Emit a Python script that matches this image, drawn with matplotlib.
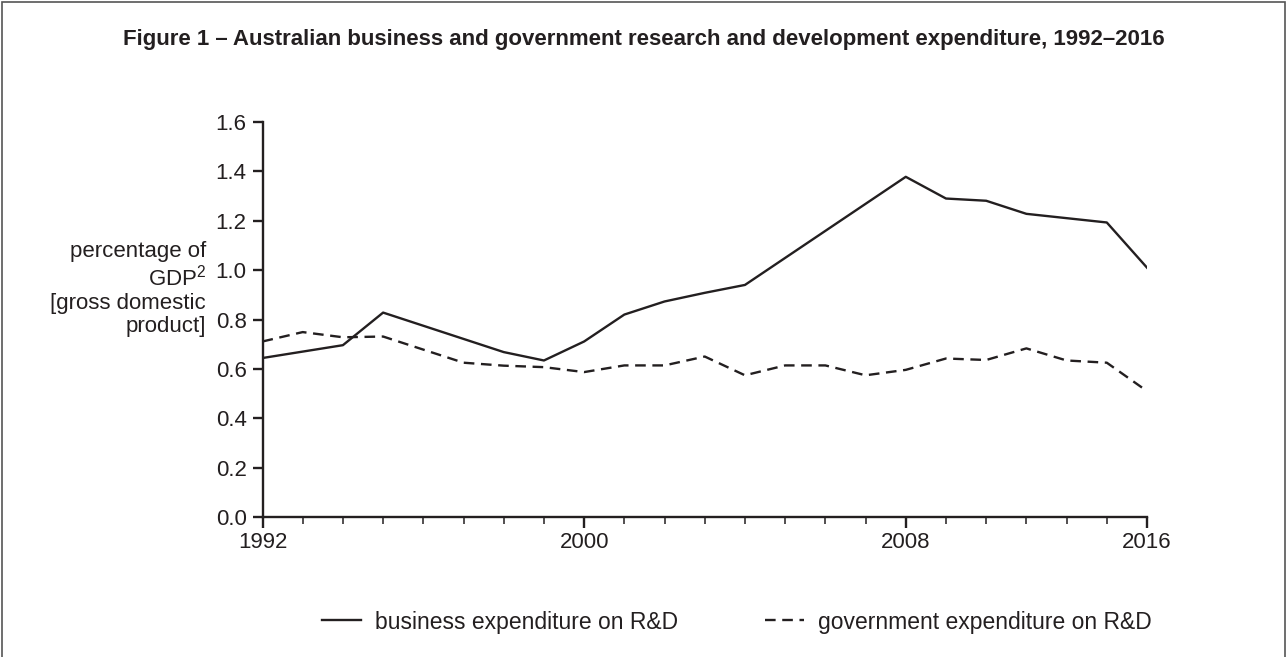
import matplotlib
matplotlib.use("Agg")
import matplotlib.pyplot as plt
from matplotlib.patches import Rectangle

plt.rcParams["font.family"] = ["Liberation Sans", "DejaVu Sans"]
plt.rcParams["mathtext.fontset"] = "custom"
plt.rcParams["mathtext.rm"] = "Liberation Sans"

# ── Data ───────────────────────────────────────────────────────────────
# the x axis is evenly spaced by survey period; the last two are biennial
periods = [1992, 1993, 1994, 1995, 1996, 1997, 1998, 1999, 2000, 2001, 2002,
           2003, 2004, 2005, 2006, 2007, 2008, 2009, 2010, 2011, 2012,
           2014, 2016]

business_periods = [1992, 1994, 1995, 1998, 1999, 2000, 2001, 2002, 2003,
                    2004, 2008, 2009, 2010, 2011, 2014, 2016]
business_pct = [0.644, 0.696, 0.828, 0.668, 0.634, 0.711, 0.820, 0.873, 0.908,
                0.940, 1.378, 1.290, 1.281, 1.228, 1.193, 1.01]

gov_periods = [1992, 1993, 1994, 1995, 1997, 1998, 1999, 2000, 2001, 2002,
               2003, 2004, 2005, 2006, 2007, 2008, 2009, 2010, 2011, 2012,
               2014, 2016]
gov_pct = [0.711, 0.749, 0.728, 0.731, 0.625, 0.613, 0.607, 0.587, 0.614,
           0.614, 0.650, 0.574, 0.614, 0.614, 0.574, 0.596, 0.642, 0.636,
           0.683, 0.634, 0.625, 0.51]

labelled_periods = [1992, 2000, 2008, 2016]
y_ticks = [0.0, 0.2, 0.4, 0.6, 0.8, 1.0, 1.2, 1.4, 1.6]

title = ("Figure 1 \u2013 Australian business and government research and "
         "development expenditure, 1992\u20132016")
ink = "#231f20"
fs = 16

# periods -> evenly spaced positions
bx = [periods.index(p) for p in business_periods]
gx = [periods.index(p) for p in gov_periods]

# ── Figure ─────────────────────────────────────────────────────────────
fig = plt.figure(figsize=(12.87, 6.57), dpi=100)
ax = fig.add_axes([262.5 / 1287, 1 - 517 / 657, (1147 - 262.5) / 1287, (517 - 122) / 657])

ax.plot(bx, business_pct, color=ink, linewidth=1.7,
        label="business expenditure on R&D")
ax.plot(gx, gov_pct, color=ink, linewidth=1.7, linestyle=(0, (4.5, 2.8)),
        label="government expenditure on R&D")

ax.set_xlim(0, len(periods) - 1)
ax.set_ylim(0, 1.6)
ax.set_xticks([periods.index(p) for p in labelled_periods])
ax.set_xticklabels([str(p) for p in labelled_periods])
ax.set_xticks(range(len(periods)), minor=True)
ax.set_yticks(y_ticks)
ax.set_yticklabels([f"{v:.1f}" for v in y_ticks])

for side in ["top", "right"]:
    ax.spines[side].set_visible(False)
for side in ["left", "bottom"]:
    ax.spines[side].set_linewidth(1.7)
    ax.spines[side].set_color(ink)

ax.tick_params(axis="y", direction="out", length=7.5, width=1.7, color=ink,
               labelsize=fs, labelcolor=ink, pad=4)
ax.tick_params(axis="x", which="major", direction="out", length=8, width=1.7,
               color=ink, labelsize=fs, labelcolor=ink, pad=3)
ax.tick_params(axis="x", which="minor", direction="out", length=5, width=1.1,
               color=ink)

fig.text(0.5, 1 - 40 / 657, title, ha="center", va="center",
         fontsize=16, fontweight="bold", color=ink)

fig.text(206 / 1287, 1 - 289 / 657,
         "percentage of\nGDP$^{2}$\n[gross domestic\nproduct]",
         ha="right", va="center", multialignment="right",
         fontsize=fs, color=ink, linespacing=1.15)

fig.legend(loc="center", bbox_to_anchor=(737 / 1287, 1 - 622 / 657), ncol=2,
           frameon=False, fontsize=16.5, handlelength=1.7, handletextpad=0.6,
           columnspacing=3.8, labelcolor=ink)

# outer frame of the figure box
fig.add_artist(Rectangle((1.5 / 1287, -0.02), 1283 / 1287, 1.02 - 1.5 / 657,
                         transform=fig.transFigure, fill=False,
                         edgecolor="#555555", linewidth=1.2))

fig.savefig("out.png", dpi=100)
